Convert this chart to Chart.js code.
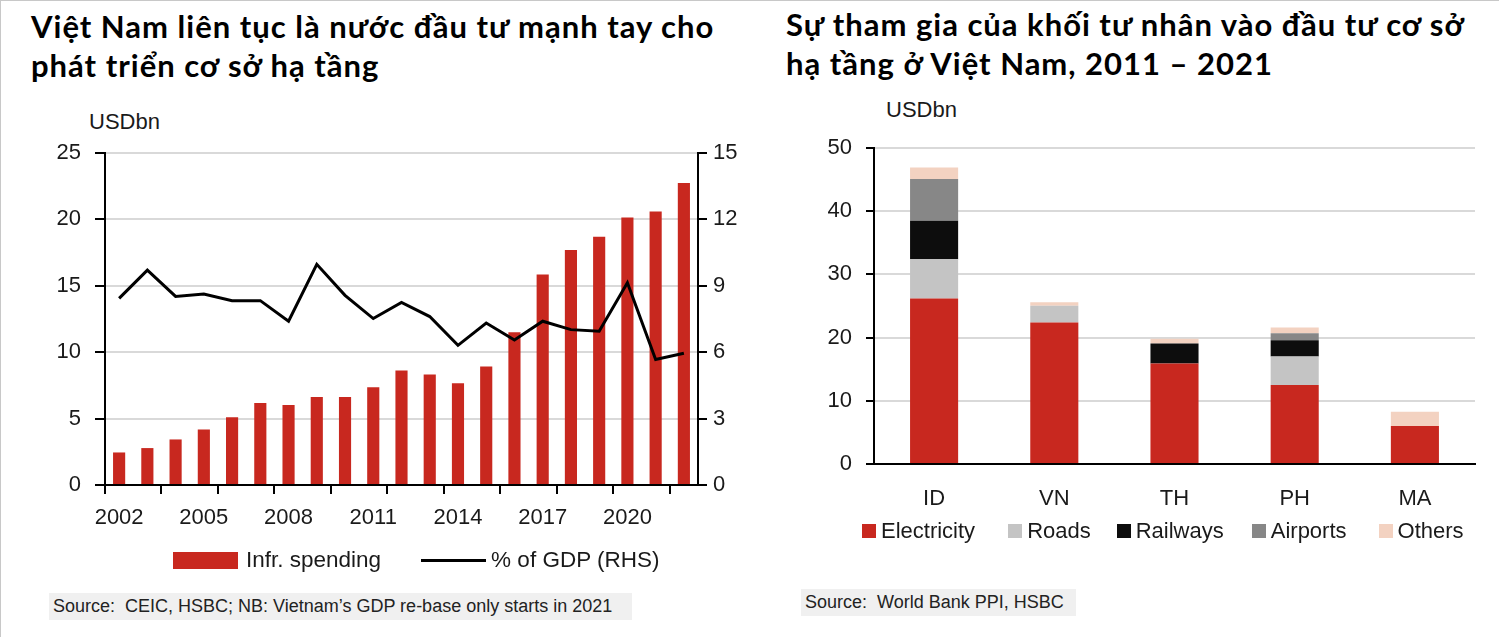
<!DOCTYPE html>
<html lang="vi">
<head>
<meta charset="utf-8">
<script src="https://cdn.jsdelivr.net/npm/chart.js@4.4.1/dist/chart.umd.min.js"></script>
<style>
    html, body { margin: 0; padding: 0; background: #fff; }
    body { width: 1499px; height: 637px; position: relative; overflow: hidden; box-sizing: border-box; border-top: 1px solid #c8c8c8; border-left: 1px solid #c8c8c8; }
    .title { position: absolute; font-family: Lato, 'Noto Sans', sans-serif; font-weight: 700; font-size: 31px; line-height: 39px; letter-spacing: 1px; color: #000; white-space: nowrap; }
    .narrow { font-family: 'Liberation Sans', Arial, sans-serif; color: #1a1a1a; }
    .unit { position: absolute; font-size: 22px; }
    .source { position: absolute; background: #f0f0f0; font-size: 18px; padding: 3px 12px 3px 4px; color: #222; }
    .legend { position: absolute; font-size: 22px; display: flex; align-items: center; white-space: nowrap; }
    .legend span.sw { display: inline-block; }
    canvas { position: absolute; }
</style>
</head>
<body>
<div class="title" style="left:30px; top:6px;">Việt Nam liên tục là nước đầu tư mạnh tay cho<br>phát triển cơ sở hạ tầng</div>
<div class="title" style="left:785px; top:4px;">Sự tham gia của khối tư nhân vào đầu tư cơ sở<br>hạ tầng ở Việt Nam, 2011 – 2021</div>

<div class="narrow unit" style="left:88px; top:108px;">USDbn</div>
<div class="narrow unit" style="left:885px; top:96px;">USDbn</div>

<div style="position:absolute; left:0; top:0; width:750px; height:637px;"><canvas id="leftChart"></canvas></div>
<div style="position:absolute; left:750px; top:0; width:749px; height:637px;"><canvas id="rightChart"></canvas></div>

<div class="narrow legend" style="left:172px; top:546px; font-size:22.5px;">
    <span class="sw" style="width:65px; height:17px; background:#c8281f; margin-right:8px;"></span>Infr. spending
    <span class="sw" style="width:65px; height:3px; background:#000; margin-left:40px; margin-right:5px;"></span>% of GDP (RHS)
</div>
<div class="narrow legend" style="left:861px; top:517px;">
    <span class="sw" style="width:14px; height:14px; background:#c8281f; margin-right:5px;"></span>Electricity
    <span class="sw" style="width:14px; height:14px; background:#c4c4c4; margin-left:33px; margin-right:5px;"></span>Roads
    <span class="sw" style="width:14px; height:14px; background:#0d0d0d; margin-left:26px; margin-right:5px;"></span>Railways
    <span class="sw" style="width:14px; height:14px; background:#878787; margin-left:28px; margin-right:5px;"></span>Airports
    <span class="sw" style="width:14px; height:14px; background:#f3d2c1; margin-left:32px; margin-right:5px;"></span>Others
</div>

<div class="narrow source" style="left:48px; top:592px; padding-right:20px;">Source:&nbsp; CEIC, HSBC; NB: Vietnam’s GDP re-base only starts in 2021</div>
<div class="narrow source" style="left:800px; top:588px;">Source:&nbsp; World Bank PPI, HSBC</div>

<script>
// Biểu đồ trái: chi tiêu hạ tầng
const years = ['2002', '2003', '2004', '2005', '2006', '2007', '2008', '2009', '2010', '2011', '2012',
    '2013', '2014', '2015', '2016', '2017', '2018', '2019', '2020', '2021', '2022'];
const infrSpending = [2.45, 2.78, 3.43, 4.18, 5.11, 6.17, 6.02, 6.62, 6.62, 7.37, 8.63,
    8.32, 7.67, 8.92, 11.5, 15.86, 17.7, 18.7, 20.15, 20.6, 22.75];
const gdpShare = [8.43, 9.71, 8.52, 8.63, 8.33, 8.33, 7.40, 9.97, 8.57, 7.52, 8.25,
    7.61, 6.31, 7.32, 6.55, 7.40, 7.02, 6.95, 9.14, 5.67, 5.95];
const leftTicks = [0, 5, 10, 15, 20, 25];
const rightTicks = [0, 3, 6, 9, 12, 15];

// Biểu đồ phải: đầu tư tư nhân theo lĩnh vực
const countries = ['ID', 'VN', 'TH', 'PH', 'MA'];
const electricity = [26.2, 22.4, 15.9, 12.5, 6.0];
const roads = [6.2, 2.65, 0, 4.5, 0];
const railways = [6.1, 0, 3.15, 2.6, 0];
const airports = [6.6, 0, 0, 1.1, 0];
const others = [1.8, 0.55, 0.75, 0.9, 2.25];
const privateTicks = [0, 10, 20, 30, 40, 50];

const RED = '#c8281f';
const GRID = '#d9d9d9';
const tickFont = { family: "'Liberation Sans', Arial, sans-serif", size: 22 };

Chart.defaults.animation = false;
Chart.defaults.responsive = true;
Chart.defaults.maintainAspectRatio = false;
Chart.defaults.color = '#1a1a1a';

new Chart(document.getElementById('leftChart'), {
    type: 'bar',
    data: {
        labels: years,
        datasets: [
            {
                type: 'line',
                label: '% of GDP (RHS)',
                data: gdpShare,
                yAxisID: 'y1',
                borderColor: '#000',
                borderWidth: 3,
                pointRadius: 0,
                tension: 0,
                order: 0
            },
            {
                label: 'Infr. spending',
                data: infrSpending,
                yAxisID: 'y',
                backgroundColor: RED,
                barPercentage: 0.43,
                categoryPercentage: 1,
                order: 1
            }
        ]
    },
    options: {
        layout: { padding: { top: 152, bottom: 93, left: 0, right: 0 } },
        plugins: { legend: { display: false }, tooltip: { enabled: false } },
        scales: {
            x: {
                offset: true,
                grid: {
                    offset: true,
                    drawOnChartArea: false,
                    tickLength: 9,
                    lineWidth: 2,
                    tickColor: ctx => (ctx.index % 2 === 0 ? '#000' : 'rgba(0,0,0,0)')
                },
                border: { color: '#000', width: 2 },
                ticks: {
                    autoSkip: false,
                    maxRotation: 0,
                    padding: 11,
                    font: tickFont,
                    callback: (v, i) => (i % 3 === 0 ? years[i] : '')
                },
                afterFit: scale => { scale.height = 60; }
            },
            y: {
                position: 'left',
                min: 0,
                max: 25,
                afterBuildTicks: scale => { scale.ticks = leftTicks.map(v => ({ value: v })); },
                grid: { color: GRID, lineWidth: 2, tickColor: '#000', tickLength: 10 },
                border: { color: '#000', width: 2 },
                ticks: { font: tickFont, padding: 14 },
                afterFit: scale => { scale.width = 104; }
            },
            y1: {
                position: 'right',
                min: 0,
                max: 15,
                afterBuildTicks: scale => { scale.ticks = rightTicks.map(v => ({ value: v })); },
                grid: { drawOnChartArea: false, lineWidth: 2, tickColor: '#000', tickLength: 9 },
                border: { color: '#000', width: 2 },
                ticks: { font: tickFont, padding: 6 },
                afterFit: scale => { scale.width = 53; }
            }
        }
    }
});

new Chart(document.getElementById('rightChart'), {
    type: 'bar',
    data: {
        labels: countries,
        datasets: [
            { label: 'Electricity', data: electricity, backgroundColor: RED },
            { label: 'Roads', data: roads, backgroundColor: '#c4c4c4' },
            { label: 'Railways', data: railways, backgroundColor: '#0d0d0d' },
            { label: 'Airports', data: airports, backgroundColor: '#878787' },
            { label: 'Others', data: others, backgroundColor: '#f3d2c1' }
        ]
    },
    options: {
        datasets: { bar: { barPercentage: 0.4, categoryPercentage: 1 } },
        layout: { padding: { top: 147, bottom: 124, left: 0, right: 25 } },
        plugins: { legend: { display: false }, tooltip: { enabled: false } },
        scales: {
            x: {
                stacked: true,
                grid: { display: false },
                border: { color: '#000', width: 2 },
                ticks: { font: tickFont, padding: 14, maxRotation: 0 },
                afterFit: scale => { scale.height = 50; }
            },
            y: {
                stacked: true,
                min: 0,
                max: 50,
                afterBuildTicks: scale => { scale.ticks = privateTicks.map(v => ({ value: v })); },
                grid: { color: GRID, lineWidth: 2, tickColor: '#000', tickLength: 8 },
                border: { color: '#000', width: 2 },
                ticks: { font: tickFont, padding: 14 },
                afterFit: scale => { scale.width = 123; }
            }
        }
    }
});
</script>
</body>
</html>
